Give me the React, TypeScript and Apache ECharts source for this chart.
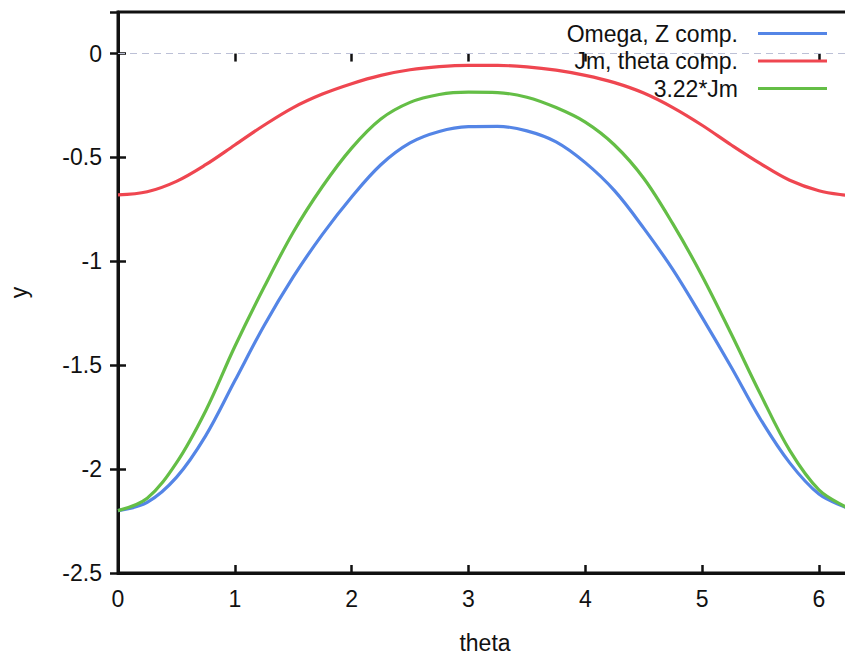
import React, { useEffect, useRef } from "react";
import * as echarts from "echarts";

// theta sample points
const thetas = [
  0, 0.25, 0.5, 0.75, 1.0, 1.25, 1.5, 1.75, 2.0, 2.25, 2.5, 2.75, 3.0, 3.25,
  3.5, 3.75, 4.0, 4.25, 4.5, 4.75, 5.0, 5.25, 5.5, 5.75, 6.0, 6.25, 6.2832,
];

// Omega, Z comp.
const omegaZ = [
  -2.2, -2.16, -2.04, -1.84, -1.575, -1.31, -1.075, -0.87, -0.69, -0.535, -0.43,
  -0.375, -0.352, -0.35, -0.372, -0.425, -0.525, -0.66, -0.84, -1.04, -1.27,
  -1.51, -1.76, -1.97, -2.12, -2.19, -2.2,
];

// Jm, theta comp.
const jmTheta = [
  -0.68, -0.665, -0.615, -0.535, -0.44, -0.345, -0.26, -0.195, -0.145, -0.105,
  -0.078, -0.063, -0.057, -0.057, -0.064, -0.08, -0.105, -0.14, -0.19, -0.26,
  -0.345, -0.44, -0.53, -0.61, -0.66, -0.684, -0.685,
];

// 3.22*Jm
const jmScaled = [
  -2.2, -2.14, -1.97, -1.72, -1.41, -1.125, -0.86, -0.64, -0.455, -0.315,
  -0.235, -0.197, -0.186, -0.188, -0.21, -0.26, -0.33, -0.44, -0.6, -0.82,
  -1.07, -1.35, -1.64, -1.91, -2.1, -2.19, -2.2,
];

const seriesNames = ["Omega, Z comp.", "Jm, theta comp.", "3.22*Jm"];
const seriesColors = ["#5485e6", "#ef4650", "#64be46"];

const FONT = "Liberation Sans, Arial, sans-serif";
const TXT = "#111111";
const FS = 23;

export default function App() {
  const ref = useRef<HTMLDivElement>(null);

  useEffect(() => {
    if (!ref.current) return;
    const chart = echarts.init(ref.current, undefined, { renderer: "svg" });
    const values = [omegaZ, jmTheta, jmScaled];
    const xMax = thetas[thetas.length - 1];

    const series: any[] = values.map((vals, i) => ({
      name: seriesNames[i],
      type: "line",
      xAxisIndex: 0,
      yAxisIndex: 0,
      data: thetas.map((t, k) => [t, vals[k]]),
      smooth: 0.35,
      showSymbol: false,
      symbol: "none",
      lineStyle: { color: seriesColors[i], width: 3.2 },
      itemStyle: { color: seriesColors[i] },
      z: 3 + i,
    }));
    series[0].markLine = {
      silent: true,
      symbol: "none",
      label: { show: false },
      lineStyle: { color: "#bcc0d6", width: 1.2, type: [7, 5] },
      data: [{ yAxis: 0 }],
      z: 1,
    };

    const tickCommon = {
      show: true,
      inside: true,
      length: 8,
      lineStyle: { color: "#111", width: 2.5 },
    };

    chart.setOption({
      animation: false,
      backgroundColor: "#ffffff",
      grid: {
        left: 118,
        top: 12,
        right: 8,
        bottom: 81,
        containLabel: false,
        outerBoundsMode: "none",
        show: true,
        borderColor: "#111",
        borderWidth: 3,
        backgroundColor: "transparent",
      },
      legend: {
        orient: "vertical",
        align: "right",
        right: 33,
        top: 22,
        padding: 0,
        itemGap: 4.5,
        itemWidth: 69,
        itemHeight: 3,
        icon: "rect",
        data: seriesNames,
        textStyle: {
          fontFamily: FONT,
          fontSize: FS,
          lineHeight: 23,
          color: TXT,
          padding: [0, 15, 0, 0],
        },
      },
      xAxis: [
        {
          type: "value",
          position: "bottom",
          min: 0,
          max: xMax,
          interval: 1,
          name: "theta",
          nameLocation: "middle",
          nameGap: 58,
          nameTextStyle: { fontFamily: FONT, fontSize: FS, color: TXT },
          axisLine: { show: true, onZero: false, lineStyle: { color: "#111", width: 3 } },
          axisTick: tickCommon,
          axisLabel: {
            fontFamily: FONT,
            fontSize: FS,
            color: TXT,
            margin: 14,
            showMaxLabel: false,
          },
          splitLine: { show: false },
        },
        {
          type: "value",
          position: "top",
          min: 0,
          max: xMax,
          interval: 1,
          axisLine: { show: false },
          axisTick: tickCommon,
          axisLabel: { show: false },
          splitLine: { show: false },
        },
      ],
      yAxis: [
        {
          type: "value",
          position: "left",
          min: -2.5,
          max: 0.2,
          interval: 0.5,
          name: "y",
          nameLocation: "middle",
          nameGap: 88,
          nameTextStyle: { fontFamily: FONT, fontSize: FS, color: TXT },
          axisLine: { show: true, onZero: false, lineStyle: { color: "#111", width: 3 } },
          axisTick: tickCommon,
          axisLabel: {
            fontFamily: FONT,
            fontSize: FS,
            color: TXT,
            margin: 16,
            showMaxLabel: false,
          },
          splitLine: { show: false },
        },
        {
          type: "value",
          position: "right",
          min: -2.5,
          max: 0.2,
          interval: 0.5,
          axisLine: { show: false },
          axisTick: tickCommon,
          axisLabel: { show: false },
          splitLine: { show: false },
        },
      ],
      series,
    });

    return () => chart.dispose();
  }, []);

  return (
    <div
      style={{
        position: "absolute",
        left: 0,
        top: 0,
        width: 845,
        height: 654,
        overflow: "hidden",
        background: "#fff",
      }}
    >
      <div ref={ref} style={{ width: 860, height: 654 }} />
    </div>
  );
}
